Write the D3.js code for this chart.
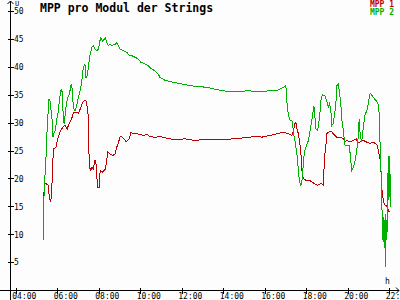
<!DOCTYPE html>
<html>
<head>
<meta charset="utf-8">
<script src="https://cdn.jsdelivr.net/npm/d3@7"></script>
<style>
  body { margin: 0; background: #fdfdfd; }
  svg { display: block; }
  text { font-family: "DejaVu Sans Mono", "Liberation Mono", monospace; }
</style>
</head>
<body>
<div id="wrapper"></div>
<script>
const titleText = "MPP pro Modul der Strings";
const seriesNames = ["MPP 1", "MPP 2"];
const seriesColors = ["#c00000", "#00b000"];

const yTicks = [5, 10, 15, 20, 25, 30, 35, 40, 45, 50];
const xTickLabels = ["04:00", "06:00", "08:00", "10:00", "12:00", "14:00", "16:00", "18:00", "20:00", "22:00"];

const mpp1Times = ["05:20","05:21","05:22","05:29","05:34","05:37","05:41","05:44","05:47","05:50",
  "05:56","06:00","06:03","06:08","06:13","06:17","06:22","06:25","06:29","06:32",
  "06:37","06:42","06:46","06:51","06:56","07:01","07:06","07:11","07:15","07:20",
  "07:23","07:27","07:30","07:31","07:33","07:37","07:40","07:44","07:49","07:52",
  "07:54","07:57","08:01","08:03","08:06","08:11","08:15","08:19","08:23","08:26",
  "08:32","08:40","08:47","08:52","08:56","09:01","09:06","09:13","09:19","09:24",
  "09:28","09:33","09:40","09:50","09:59","10:09","10:19","10:28","10:38","10:47",
  "10:57","11:11","11:40","12:09","12:38","13:07","13:36","14:05","14:34","15:03",
  "15:32","15:52","16:15","16:34","16:54","17:08","17:18","17:22","17:27","17:30",
  "17:32","17:37","17:40","17:44","17:47","17:50","17:53","18:01","18:11","18:18",
  "18:25","18:32","18:40","18:44","18:49","18:51","18:54","18:57","18:59","19:04",
  "19:09","19:14","19:18","19:23","19:28","19:37","19:47","19:52","19:57","20:06",
  "20:16","20:24","20:28","20:35","20:45","20:55","21:04","21:14","21:22","21:25",
  "21:28","21:33","21:35","21:38","21:41","21:45","21:48","21:52","21:57","22:00"];
const mpp1Values = [13.8,15.5,19.0,19.0,18.75,16.4,15.8,17.9,23.2,25.3,
  25.6,26.8,27.4,28.3,28.9,29.2,29.5,29.2,28.9,29.5,
  30.1,30.8,31.7,31.8,31.8,31.7,32.4,33.3,33.8,34.0,
  33.9,32.7,30.9,25.6,22.0,21.4,22.0,21.7,23.2,22.6,
  20.5,18.4,18.4,20.8,21.4,21.1,21.4,21.7,23.2,24.7,
  24.4,24.1,24.4,25.6,26.2,27.4,27.5,27.1,26.5,26.8,
  27.1,28.3,28.0,28.0,27.9,27.7,27.9,27.5,27.4,27.4,
  27.5,27.3,26.9,27.1,26.8,27.0,26.9,27.0,27.1,27.3,
  27.5,27.4,27.7,28.0,28.3,28.0,27.7,28.3,29.8,30.1,
  29.2,28.0,26.8,25.0,21.7,20.2,19.9,19.6,19.6,19.3,
  19.0,18.75,19.0,19.1,18.75,21.4,24.4,26.2,28.0,28.3,
  28.4,28.3,28.0,27.7,27.4,27.4,27.1,26.5,26.8,26.5,
  26.8,27.1,26.5,26.5,26.8,26.5,26.3,26.5,26.1,25.9,
  25.0,23.5,22.6,18.4,16.7,15.5,15.2,15.2,14.3,14.0];

const mpp2Times = ["05:20","05:21","05:22","05:26","05:29","05:32","05:36","05:39","05:42","05:45",
  "05:47","05:50","05:54","05:58","06:03","06:06","06:10","06:13","06:16","06:17",
  "06:20","06:25","06:30","06:35","06:39","06:42","06:44","06:47","06:51","06:56",
  "07:01","07:06","07:11","07:15","07:20","07:23","07:27","07:31","07:35","07:40",
  "07:44","07:49","07:54","07:59","08:03","08:06","08:11","08:15","08:19","08:23",
  "08:27","08:32","08:37","08:47","08:52","08:56","09:01","09:11","09:21","09:28",
  "09:35","09:45","09:54","10:02","10:14","10:23","10:33","10:42","10:52","10:57",
  "11:11","11:35","11:55","12:24","12:47","13:13","13:36","13:59","14:25","14:48",
  "15:11","15:37","15:55","16:15","16:34","16:54","17:01","17:05","17:08","17:13",
  "17:18","17:21","17:22","17:27","17:30","17:34","17:37","17:40","17:44","17:47",
  "17:50","17:53","17:56","18:01","18:06","18:11","18:16","18:20","18:22","18:25",
  "18:28","18:32","18:35","18:40","18:43","18:47","18:54","18:59","19:04","19:07",
  "19:11","19:14","19:18","19:23","19:26","19:28","19:33","19:35","19:40","19:42",
  "19:47","19:52","19:59","20:04","20:08","20:11","20:16","20:21","20:26","20:30",
  "20:33","20:35","20:37","20:40","20:45","20:50","20:55","20:59","21:04","21:06",
  "21:14","21:22","21:28","21:31","21:33","21:36","21:38","21:41","21:43","21:45",
  "21:47","21:48","21:50","21:52","21:54","21:57","21:59","22:01","22:04"];
const mpp2Values = [8.9,13.4,19.3,21.4,26.8,30.4,34.2,33.9,32.1,30.4,
  27.4,28.0,28.6,30.4,32.1,33.9,35.7,36.0,33.9,30.4,
  29.8,32.7,34.5,35.1,36.6,36.9,34.5,32.7,32.1,33.0,
  34.5,35.7,37.5,39.9,40.5,38.1,38.4,40.5,42.3,43.5,
  43.8,43.2,42.9,43.2,44.6,45.2,44.6,44.9,45.2,44.3,
  43.8,44.0,43.8,44.0,44.3,43.8,43.2,42.9,42.6,42.0,
  42.0,41.7,41.4,40.8,40.5,40.2,39.6,39.3,38.7,38.1,
  37.6,37.2,37.0,36.6,36.5,36.3,36.0,35.7,35.5,35.6,
  35.7,35.6,35.5,35.8,35.7,36.3,36.6,32.7,31.5,30.4,
  30.4,29.8,28.3,26.8,25.6,23.8,21.4,19.6,18.75,19.3,
  21.4,23.8,25.0,25.9,26.8,28.6,30.4,32.1,33.0,30.9,
  28.9,28.6,29.2,32.1,34.5,35.0,34.8,33.9,32.7,33.6,
  32.1,29.5,29.8,32.1,33.9,36.6,37.0,35.7,33.3,30.9,
  28.6,25.9,25.9,25.9,23.8,21.4,22.0,23.2,25.0,27.4,
  30.7,28.6,27.4,26.5,29.2,31.5,32.1,33.3,35.1,35.2,
  34.5,33.9,33.3,31.5,26.8,21.4,16.7,8.9,13.0,7.7,
  12.5,4.2,13.7,8.9,11.0,24.1,16.1,24.1,14.9];

const parseTime = d3.timeParse("%H:%M");

const dimensions = { width: 400, height: 300 };
const axisX = 10.5;
const axisY = 290.5;

const wrapper = d3.select("#wrapper")
  .append("svg")
  .attr("width", dimensions.width)
  .attr("height", dimensions.height)
  .style("background", "#fdfdfd");

const xScale = d3.scaleTime()
  .domain([parseTime("04:00"), parseTime("22:00")])
  .range([15.8, 389.3]);

const yScale = d3.scaleLinear()
  .domain([0, 50])
  .range([290, 11]);

// y axis
const yAxis = d3.axisRight(yScale)
  .tickValues(yTicks)
  .tickSize(3)
  .tickFormat(d => d);

const yAxisGroup = wrapper.append("g")
  .attr("transform", `translate(${axisX},0)`)
  .call(yAxis);
yAxisGroup.select(".domain").remove();
yAxisGroup.selectAll(".tick line")
  .attr("x1", -3)
  .attr("stroke", "#000")
  .attr("shape-rendering", "crispEdges");
yAxisGroup.selectAll(".tick text")
  .attr("x", 3.5)
  .attr("dy", "0.35em")
  .style("font-size", "8px")
  .attr("fill", "#000");

// x axis
const xAxis = d3.axisBottom(xScale)
  .tickValues(xTickLabels.map(parseTime))
  .tickSize(3)
  .tickFormat(d3.timeFormat("%H:%M"));

const xAxisGroup = wrapper.append("g")
  .attr("transform", `translate(0,${axisY})`)
  .call(xAxis);
xAxisGroup.select(".domain").remove();
xAxisGroup.selectAll(".tick line")
  .attr("y1", -3)
  .attr("stroke", "#000")
  .attr("shape-rendering", "crispEdges");
xAxisGroup.selectAll(".tick text")
  .attr("text-anchor", "start")
  .attr("x", -4)
  .attr("y", 8.5)
  .attr("dy", 0)
  .style("font-size", "8px")
  .attr("fill", "#000");

// axis lines with arrows
wrapper.append("line")
  .attr("x1", axisX).attr("x2", axisX)
  .attr("y1", 1).attr("y2", 300)
  .attr("stroke", "#000")
  .attr("shape-rendering", "crispEdges");
wrapper.append("line")
  .attr("x1", 0).attr("x2", 399)
  .attr("y1", axisY).attr("y2", axisY)
  .attr("stroke", "#000")
  .attr("shape-rendering", "crispEdges");
wrapper.append("path")
  .attr("d", `M${axisX - 3},4 L${axisX},1 L${axisX + 3},4`)
  .attr("fill", "none")
  .attr("stroke", "#000");
wrapper.append("path")
  .attr("d", `M396,${axisY - 3} L399,${axisY} L396,${axisY + 3}`)
  .attr("fill", "none")
  .attr("stroke", "#000");

wrapper.append("text")
  .attr("x", 15)
  .attr("y", 6)
  .style("font-size", "7px")
  .text("U");
wrapper.append("text")
  .attr("x", 385)
  .attr("y", 284)
  .style("font-size", "8px")
  .text("h");

// lines
const line = d3.line()
  .x(d => xScale(d.t))
  .y(d => yScale(d.v));

const series = [
  mpp1Times.map((t, i) => ({ t: parseTime(t), v: mpp1Values[i] })),
  mpp2Times.map((t, i) => ({ t: parseTime(t), v: mpp2Values[i] }))
];

wrapper.selectAll(".series")
  .data(series)
  .join("path")
  .attr("class", "series")
  .attr("d", line)
  .attr("fill", "none")
  .attr("stroke", (d, i) => seriesColors[i])
  .attr("stroke-width", 1)
  .attr("shape-rendering", "crispEdges");

// title
wrapper.append("text")
  .attr("x", 40)
  .attr("y", 12)
  .style("font-size", "11.5px")
  .style("font-weight", "bold")
  .text(titleText);

// legend
wrapper.selectAll(".legend")
  .data(seriesNames)
  .join("text")
  .attr("class", "legend")
  .attr("x", 394)
  .attr("y", (d, i) => 7 + i * 8)
  .attr("text-anchor", "end")
  .style("font-size", "8px")
  .style("font-weight", "bold")
  .attr("fill", (d, i) => seriesColors[i])
  .text(d => d);
</script>
</body>
</html>
